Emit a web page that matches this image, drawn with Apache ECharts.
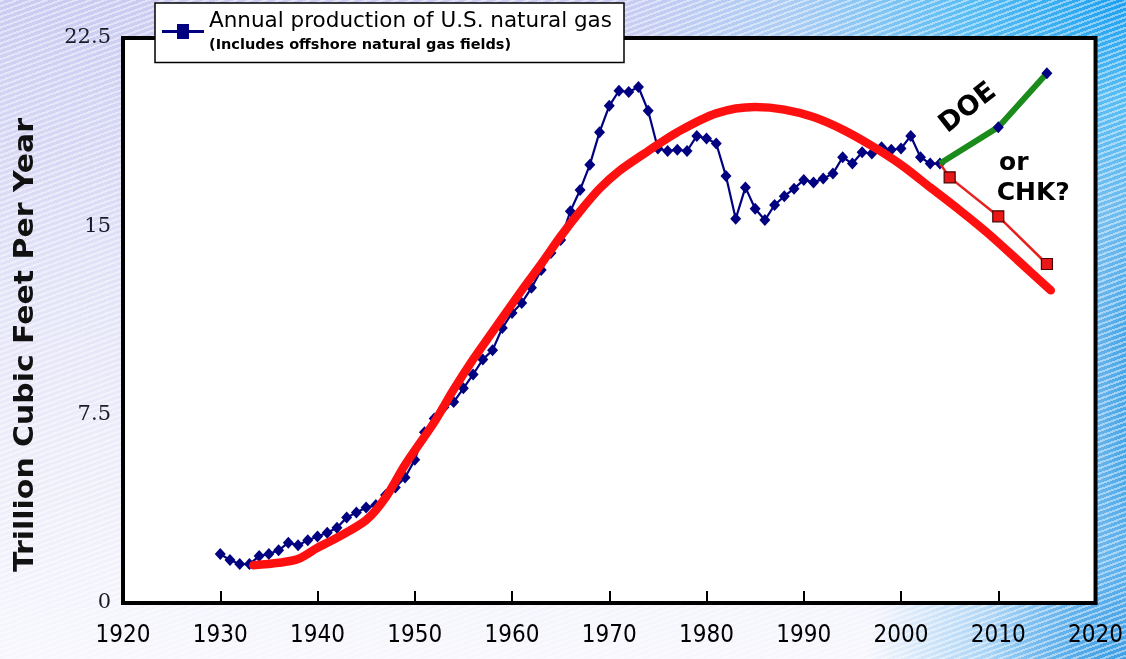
<!DOCTYPE html>
<html>
<head>
<meta charset="utf-8">
<script src="https://cdn.jsdelivr.net/npm/echarts@6/dist/echarts.min.js"></script>
<style>
  html, body { margin: 0; padding: 0; }
  body {
    width: 1126px; height: 659px; overflow: hidden;
    background:
      repeating-linear-gradient(160deg, rgba(255,255,255,0.45) 0px, rgba(255,255,255,0.45) 2px, rgba(255,255,255,0) 2px, rgba(255,255,255,0) 5px),
      radial-gradient(ellipse 520px 330px at 100% 0%, #1c9ff0 0%, #58bdf4 30%, rgba(140,205,245,0.5) 65%, rgba(255,255,255,0) 100%),
      radial-gradient(ellipse 260px 200px at 100% 100%, #3f9fe6 0%, rgba(110,185,240,0.6) 50%, rgba(255,255,255,0) 100%),
      linear-gradient(90deg, rgba(80,170,235,0) 88%, #45a6e8 100%),
      linear-gradient(180deg, #cbcbf2 0%, #e4e4f8 45%, #f7f7fd 100%);
  }
  #main { width: 1126px; height: 659px; }
</style>
</head>
<body>
<div id="main"></div>
<script>
  // annual production, trillion cubic feet
  const gasYears = [1930, 1931, 1932, 1933, 1934, 1935, 1936, 1937, 1938, 1939,
    1940, 1941, 1942, 1943, 1944, 1945, 1946, 1947, 1948, 1949,
    1950, 1951, 1952, 1953, 1954, 1955, 1956, 1957, 1958, 1959,
    1960, 1961, 1962, 1963, 1964, 1965, 1966, 1967, 1968, 1969,
    1970, 1971, 1972, 1973, 1974, 1975, 1976, 1977, 1978, 1979,
    1980, 1981, 1982, 1983, 1984, 1985, 1986, 1987, 1988, 1989,
    1990, 1991, 1992, 1993, 1994, 1995, 1996, 1997, 1998, 1999,
    2000, 2001, 2002, 2003, 2004]
  const gasTcf = [1.95, 1.71, 1.55, 1.55, 1.87, 1.95, 2.1, 2.4, 2.3, 2.5,
    2.65, 2.8, 3.0, 3.4, 3.6, 3.8, 3.9, 4.3, 4.6, 5.0,
    5.7, 6.8, 7.35, 7.8, 8.0, 8.55, 9.1, 9.7, 10.07, 10.95,
    11.55, 11.95, 12.55, 13.26, 13.94, 14.46, 15.6, 16.45, 17.45, 18.75,
    19.8, 20.4, 20.35, 20.55, 19.6, 18.1, 18.0, 18.05, 18.0, 18.6,
    18.5, 18.3, 17.0, 15.3, 16.55, 15.7, 15.25, 15.85, 16.2, 16.5,
    16.85, 16.75, 16.9, 17.1, 17.75, 17.5, 17.95, 17.9, 18.15, 18.05,
    18.1, 18.6, 17.75, 17.5, 17.5]

  // fitted curve (red)
  const trendYears = [1933.4, 1936, 1938, 1940, 1942, 1945, 1947, 1949, 1952, 1954,
    1956, 1958, 1961, 1963, 1965, 1967, 1969, 1971, 1974, 1977, 1981,
    1985, 1988, 1991, 1994, 1997, 2000, 2003, 2006, 2009, 2012, 2015.4]
  const trendTcf = [1.5, 1.6, 1.75, 2.2, 2.6, 3.3, 4.2, 5.5, 7.2, 8.5,
    9.7, 10.8, 12.45, 13.5, 14.6, 15.6, 16.5, 17.2, 18.0, 18.75, 19.5,
    19.75, 19.65, 19.35, 18.85, 18.2, 17.45, 16.55, 15.65, 14.7, 13.65, 12.45]

  // forecasts
  const doeYears = [2004, 2010, 2015]
  const doeTcf = [17.5, 18.95, 21.1]
  const chkYears = [2004, 2005, 2010, 2015]
  const chkTcf = [17.5, 16.95, 15.4, 13.5]

  const xTicks = { min: 1920, max: 2020, step: 10 }
  const yTicks = { min: 0, max: 22.5, step: 7.5 }

  const legendName = 'Annual production of U.S. natural gas'
  const legendNote = '(Includes offshore natural gas fields)'
  const yTitle = 'Trillion Cubic Feet Per Year'

  const pairs = (xs, ys) => xs.map((x, i) => [x, ys[i]])
  const navy = '#000080'

  let chart = echarts.init(document.getElementById('main'))

  let annotation = (text, coord, size, rotate) => ({
    coord: coord,
    symbol: 'circle',
    symbolSize: 0,
    label: {
      show: true,
      position: 'inside',
      formatter: text,
      rotate: rotate,
      color: '#000',
      fontFamily: 'DejaVu Sans',
      fontWeight: 'bold',
      fontSize: size
    }
  })

  chart.setOption({
    backgroundColor: 'transparent',
    animation: false,
    grid: {
      left: 123, right: 29, top: 38, bottom: 56,
      show: true,
      backgroundColor: '#fff',
      borderColor: '#000',
      borderWidth: 4
    },
    legend: {
      data: [legendName],
      left: 155, top: 3,
      padding: [7, 12, 10, 7],
      backgroundColor: '#fff',
      borderColor: '#000',
      borderWidth: 1.5,
      borderRadius: 0,
      itemWidth: 42, itemHeight: 16,
      itemGap: 0,
      icon: 'path://M0,7L15,7L15,1L27,1L27,7L42,7L42,10L27,10L27,16L15,16L15,10L0,10Z',
      formatter: () => '{a|' + legendName + '}\n{b|' + legendNote + '}',
      textStyle: {
        rich: {
          a: { fontFamily: 'DejaVu Sans', fontSize: 21.5, color: '#000', lineHeight: 27 },
          b: { fontFamily: 'DejaVu Sans', fontWeight: 'bold', fontSize: 14.5, color: '#000', lineHeight: 21 }
        }
      }
    },
    xAxis: {
      type: 'value',
      min: xTicks.min, max: xTicks.max, interval: xTicks.step,
      axisLine: { show: true, lineStyle: { color: '#000', width: 4 } },
      axisTick: { show: true, inside: true, length: 12, lineStyle: { color: '#000', width: 2 } },
      axisLabel: {
        margin: 21,
        color: '#000',
        fontFamily: 'DejaVu Sans Condensed, Liberation Sans',
        fontSize: 24,
        formatter: v => String(v)
      },
      splitLine: { show: false }
    },
    yAxis: {
      type: 'value',
      min: yTicks.min, max: yTicks.max, interval: yTicks.step,
      axisLine: { show: false },
      axisTick: { show: false },
      axisLabel: {
        margin: 12,
        color: '#1a1a2a',
        fontFamily: 'DejaVu Serif',
        fontSize: 21
      },
      splitLine: { show: false }
    },
    graphic: [{
      type: 'text',
      x: 26, y: 345,
      rotation: Math.PI / 2,
      scaleX: 1.15,
      style: {
        text: yTitle,
        fill: '#111',
        font: 'bold 26px "DejaVu Sans"',
        textAlign: 'center',
        textVerticalAlign: 'middle'
      }
    }],
    series: [
      {
        name: legendName,
        type: 'line',
        data: pairs(gasYears, gasTcf),
        symbol: 'diamond',
        symbolSize: [11, 12],
        itemStyle: { color: navy },
        lineStyle: { color: navy, width: 2.2 },
        z: 2
      },
      {
        name: 'trend',
        type: 'line',
        data: pairs(trendYears, trendTcf),
        smooth: 0.3,
        showSymbol: false,
        lineStyle: { color: '#ff1010', width: 8.5, cap: 'round' },
        z: 3
      },
      {
        name: 'CHK',
        type: 'line',
        data: pairs(chkYears, chkTcf).map((p, i) => i === 0 ? { value: p, symbol: 'none' } : p),
        symbol: 'rect',
        symbolSize: 11,
        itemStyle: { color: '#e81818', borderColor: '#4a0000', borderWidth: 1.2 },
        lineStyle: { color: '#e82020', width: 2.5 },
        z: 4
      },
      {
        name: 'DOE',
        type: 'line',
        data: pairs(doeYears, doeTcf).map((p, i) => i === 0 ? { value: p, symbol: 'none' } : p),
        symbol: 'diamond',
        symbolSize: [11, 12],
        itemStyle: { color: navy },
        lineStyle: { color: '#1b8c1b', width: 6 },
        z: 4,
        markPoint: {
          data: [
            annotation('DOE', [2006.9, 19.7], 27, 38),
            annotation('or', [2011.6, 17.5], 25, 0),
            annotation('CHK?', [2013.6, 16.3], 25, 0)
          ]
        }
      }
    ]
  })
</script>
</body>
</html>
